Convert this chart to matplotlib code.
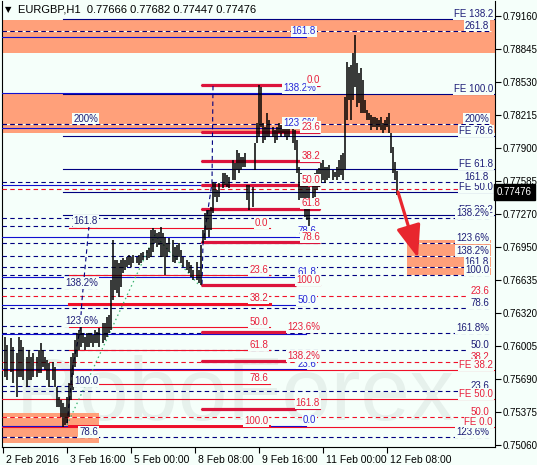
import numpy as np
import matplotlib.pyplot as plt
import matplotlib.transforms as mtransforms
from matplotlib.patches import Rectangle, FancyArrowPatch

plt.rcParams['font.family'] = ['Liberation Sans Narrow', 'Liberation Sans', 'DejaVu Sans']

BG = '#f5fffa'
NAVY = '#000080'
BLUE = '#1010d0'
CRIMSON = '#dc143c'
RED = '#f01028'
SALMON = '#ffa07a'
T_NAVY = '#1e1e78'
T_RED = '#e8203c'
T_BLUE = '#2828d8'

# --------------------------------------------------
# H1 bars: hours since 2 Feb 2016, high / low in 1e-5
# --------------------------------------------------
bar_t = [1, 2, 4, 5, 7, 8, 9, 10, 12, 13, 14, 15, 17, 18, 19, 20, 21, 22, 23, 25,
         26, 27, 28, 29, 30, 31, 32, 33, 34, 35, 36, 37, 38, 39, 40, 41, 42, 43, 44, 45,
         46, 47, 48, 50, 51, 52, 53, 54, 55, 56, 57, 58, 59, 60, 61, 62, 63, 64, 65, 67,
         68, 69, 70, 72, 73, 74, 75, 76, 77, 78, 79, 80, 81, 82, 83, 85, 86, 87, 88, 89,
         90, 92, 93, 94, 95, 97, 98, 99, 100, 101, 102, 103, 104, 105, 106, 107, 108, 110, 111, 112,
         113, 115, 116, 117, 118, 119, 120, 121, 122, 123, 125, 126, 127, 128, 129, 130, 131, 132, 133, 135,
         136, 137, 138, 139, 140, 141, 142, 143, 145, 146, 147, 148, 149, 150, 151, 152, 153, 155, 156, 157,
         158, 159, 160, 161, 162, 163, 165, 166, 167, 168, 169, 170, 171, 172, 173, 174, 175, 176, 177, 178,
         179, 180, 181, 182, 183, 184, 185, 186, 187, 188, 189, 190, 191, 192, 193, 194, 195, 196, 197]
bar_high = np.array([
    76091, 76015, 76082, 75996, 75938, 76091, 76063, 75996, 75900, 75967, 75900, 75938, 75900, 75967, 76034, 75967, 75900, 75871, 75843, 75852,
    75805, 75613, 75518, 75489, 75460, 75422, 75518, 75652, 75900, 75938, 76063, 76130, 76158, 76187, 76130, 76091, 76130, 76130, 76130, 76110,
    76158, 76140, 76177, 76225, 76225, 76282, 76302, 76636, 77019, 76827, 76827, 76799, 76827, 76846, 76827, 76856, 76875, 76856, 76875, 76856,
    76875, 76894, 76904, 76923, 76942, 77114, 77133, 77114, 77086, 77095, 77143, 77086, 77047, 76990, 77038, 77019, 76952, 76971, 76990, 76923,
    76856, 76827, 76808, 76780, 76732, 76808, 76732, 76971, 77114, 77277, 77305, 77305, 77334, 77573, 77564, 77497, 77564, 77659, 77659, 77640,
    77621, 77783, 77755, 77879, 77850, 77812, 77812, 77850, 77544, 77544, 77525, 77946, 78137, 78500, 78481, 78137, 78099, 78233, 78166, 78099,
    78070, 78099, 78137, 78118, 78166, 78099, 78137, 78137, 78099, 78070, 77975, 77716, 77659, 77592, 77564, 77564, 77525, 77592, 77659, 77688,
    77707, 77755, 77783, 77716, 77716, 77736, 77688, 77669, 77716, 77783, 77831, 77850, 78386, 78720, 78672, 78692, 78806, 78978, 78711, 78615,
    78663, 78548, 78357, 78261, 78233, 78214, 78195, 78195, 78185, 78166, 78195, 78137, 78166, 78195, 78233, 78042, 77908, 77764, 77682]) / 1e5
bar_low = np.array([
    75709, 75680, 75757, 75652, 75518, 75709, 75709, 75680, 75613, 75680, 75680, 75709, 75709, 75747, 75747, 75805, 75776, 75680, 75613, 75680,
    75613, 75422, 75422, 75326, 75231, 75250, 75269, 75326, 75489, 75585, 75805, 75900, 75967, 75996, 76034, 75967, 75996, 75996, 76034, 75996,
    76034, 76034, 75996, 76034, 76063, 76091, 76130, 76158, 76445, 76541, 76512, 76474, 76569, 76703, 76732, 76761, 76780, 76761, 76799, 76799,
    76780, 76799, 76827, 76827, 76846, 76856, 76904, 76990, 76952, 76971, 76856, 76856, 76684, 76856, 76904, 76808, 76799, 76827, 76856, 76799,
    76761, 76732, 76703, 76665, 76636, 76636, 76608, 76588, 76990, 77019, 77114, 77047, 77114, 77277, 77430, 77382, 77430, 77516, 77544, 77525,
    77516, 77592, 77592, 77688, 77659, 77688, 77716, 77716, 77401, 77305, 77334, 77688, 77946, 78003, 78099, 77946, 77975, 78003, 78003, 78003,
    77946, 77975, 78042, 78003, 78042, 78003, 77975, 78003, 77946, 77879, 77659, 77401, 77372, 77372, 77239, 77210, 77114, 77401, 77430, 77497,
    77525, 77564, 77592, 77564, 77592, 77611, 77592, 77621, 77592, 77621, 77640, 77592, 77688, 78166, 78357, 78166, 78357, 78481, 78290, 78328,
    78233, 78233, 78233, 78166, 78166, 78070, 78099, 78099, 78070, 78099, 78070, 78042, 78070, 78099, 78042, 77850, 77659, 77592, 77447]) / 1e5
last_price = 0.77476

time_ticks = [0, 32, 64, 96, 128, 160, 192]
time_labels = ['2 Feb 2016', '3 Feb 16:00', '5 Feb 00:00', '8 Feb 08:00',
               '9 Feb 16:00', '11 Feb 00:00', '12 Feb 08:00']
price_ticks = [0.79160, 0.78845, 0.78530, 0.78215, 0.77900, 0.77585, 0.77270,
               0.76950, 0.76635, 0.76320, 0.76005, 0.75690, 0.75375, 0.75060]

# --------------------------------------------------
# Zones and Fibonacci objects
# --------------------------------------------------
zone_t0 = [-0.5, -0.5, 202, -0.5]
zone_t1 = [246, 246, 244, 48]
zone_lo = [0.78806, 0.78042, 0.76684, 0.75078]
zone_hi = [0.79122, 0.78414, 0.77019, 0.75365]

fe_price = [0.79131, 0.78414, 0.78012, 0.77697, 0.77476, 0.77254]
fe_label = ['FE 138.2', 'FE 100.0', 'FE 78.6', 'FE 61.8', 'FE 50.0', 'FE 38.2']

exp_price = [0.79017, 0.78128, 0.77573, 0.77229, 0.76990, 0.76866, 0.76761,
             0.76684, 0.76369, 0.76130, 0.75967, 0.75575, 0.75135]
exp_label = ['261.8', '200%', '161.8', '138.2%', '123.6%', '138.2%', '161.8',
             '100.0', '78.6', '161.8%', '50.0', '23.6', '123.6%']

left_price = [0.78128, 0.77152, 0.76560, 0.76197, 0.75620, 0.75135]
left_label = ['200%', '161.8', '138.2%', '123.6%', '100.0', '78.6']

blue_price = [0.78963, 0.78421, 0.78085, 0.77543, 0.77051, 0.76665, 0.76394,
              0.76123, 0.75787, 0.75245]
blue_label = ['161.8', '138.2%', '123.6%', '', '78.6', '61.8', '50.0', '', '23.6', '0.0']

thick_price = [0.78500, 0.78049, 0.77770, 0.77544, 0.77318, 0.76997, 0.76588,
               0.76137, 0.75858, 0.75407]
thick_label = ['0.0', '23.6', '38.2', '50.0', '61.8', '78.6', '100.0',
               '123.6%', '138.2%', '161.8']
thick_end = [158.5, 158.5, 158.5, 158.5, 158.5, 158.5, 146.5, 141.5, 141.5, 146.5]

thin_price = [0.77133, 0.76684, 0.76410, 0.76187, 0.75963, 0.75645, 0.75240]
thin_label = ['0.0', '23.6', '38.2', '50.0', '61.8', '78.6', '100.0']
thin_width = [0.8, 0.8, 2.2, 0.8, 0.8, 0.8, 1.4]

rdash_price = [0.77503, 0.76483, 0.75852, 0.75326]
rdash_label = ['', '23.6', '38.2', '50.0']

rsolid_price = [0.75776, 0.75499, 0.75231]
rsolid_label = ['FE 38.2', 'FE 50.0', 'FE 0.0']

link1_t = [105, 104.5, 100, 99.5]
link1_p = [0.78491, 0.77564, 0.76990, 0.76588]
link2_t = [43, 39.5, 38.5, 35, 32]
link2_p = [0.77152, 0.76445, 0.76158, 0.75824, 0.75250]
trend_t = [32, 76, 97.5]
trend_p = [0.75250, 0.77066, 0.76598]

arrow_t = [197.5, 207.5]
arrow_p = [0.77477, 0.76847]

# --------------------------------------------------
# Figure
# --------------------------------------------------
fig = plt.figure(figsize=(5.37, 4.65), dpi=100, facecolor=BG)
ax = fig.add_axes([2 / 537, 1 - 447 / 465, 493 / 537, 446 / 465])
ax.set_facecolor(BG)
ax.set_xlim(-0.5, 246)
ax.set_ylim(0.75040, 0.79303)

for t0, t1, lo, hi in zip(zone_t0, zone_t1, zone_lo, zone_hi):
    ax.add_patch(Rectangle((t0, lo), t1 - t0, hi - lo, facecolor=SALMON,
                           edgecolor='none', zorder=1))

ax.text(116, 0.75298, 'RoboForex', fontsize=64, family='Liberation Sans',
        color='#e6f1ec', ha='center', va='baseline', zorder=0.5)

DASH = (0, (4, 3))


def label(x, p, text, color):
    if not text:
        return
    ax.annotate(text, (x, p), xytext=(0, 1.6), textcoords='offset points',
                ha='right', va='baseline', fontsize=7, color=color, zorder=6,
                bbox=dict(boxstyle='square,pad=0.08', fc=BG, ec='none'))


def solid_levels(prices, labels, t0, t1, lab_t, color, tcolor, lw=0.8):
    for p, lab in zip(prices, labels):
        ax.plot([t0, t1], [p, p], color=color, lw=lw, zorder=3)
        label(lab_t, p, lab, tcolor)


def dashed_levels(prices, labels, t0, t1, lab_t, color, tcolor):
    for p, lab in zip(prices, labels):
        ax.plot([t0, t1], [p, p], color=color, lw=0.8, ls=DASH, gapcolor=BG, zorder=3)
        label(lab_t, p, lab, tcolor)


solid_levels(fe_price, fe_label, 30, 246, 245, NAVY, T_NAVY)
dashed_levels(exp_price, exp_label, -0.5, 244, 243, NAVY, T_NAVY)
dashed_levels(left_price, left_label, -0.5, 47, 47.5, NAVY, T_NAVY)
solid_levels(blue_price, blue_label, -0.5, 151.5, 156.5, BLUE, T_BLUE)
dashed_levels(rdash_price, rdash_label, -0.5, 244, 243, RED, T_RED)
solid_levels(rsolid_price, rsolid_label, -0.5, 246, 245, RED, T_RED)

for p, lab, w in zip(thin_price, thin_label, thin_width):
    ax.plot([33, 133.5], [p, p], color=RED, lw=w, zorder=3)
    label(132.5, p, lab, T_RED)

for p, lab, e in zip(thick_price, thick_label, thick_end):
    ax.plot([99, e], [p, p], color=CRIMSON, lw=2.3, solid_capstyle='butt', zorder=3)
    ax.plot([99, 158.5], [p, p], color=CRIMSON, lw=0.8, zorder=3)
    label(158.5, p, lab, T_RED)

ax.plot(link1_t, link1_p, color=NAVY, lw=0.8, ls=DASH, zorder=3)
ax.plot(link2_t, link2_p, color=NAVY, lw=0.8, ls=DASH, zorder=3)
ax.plot(trend_t, trend_p, color='#3cb371', lw=0.9, ls=(0, (1.2, 2.5)), zorder=3)

# price bars
ax.vlines(bar_t, bar_low, bar_high, color='black', lw=1.1, zorder=4)

arrow = FancyArrowPatch((arrow_t[0], arrow_p[0]), (arrow_t[1], arrow_p[1]),
                        arrowstyle='-|>,head_length=2.0,head_width=0.75',
                        mutation_scale=10, color='#e8262e', lw=2.3,
                        shrinkA=0, shrinkB=0, zorder=7)
ax.add_patch(arrow)

# --------------------------------------------------
# Axes
# --------------------------------------------------
for side in ['left', 'right', 'bottom']:
    ax.spines[side].set_color('black')
    ax.spines[side].set_linewidth(0.8)
ax.spines['top'].set_visible(False)

ax.set_yticks(price_ticks)
ax.set_yticklabels(['%.5f' % v for v in price_ticks])
ax.tick_params(axis='y', left=False, right=True, labelleft=False, labelright=True,
               direction='out', length=4, width=0.8, pad=1.5, labelsize=7)
ax.set_xticks(time_ticks)
ax.set_xticklabels(time_labels)
ax.tick_params(axis='x', direction='out', length=4, width=0.8, pad=2, labelsize=7.5)
shift = mtransforms.ScaledTranslation(3 / 100, 0, fig.dpi_scale_trans)
for lab in ax.get_xticklabels():
    lab.set_ha('left')
    lab.set_transform(lab.get_transform() + shift)

ax.text(1.004, last_price, '%.5f' % last_price, transform=ax.get_yaxis_transform(),
        color='white', fontsize=7, ha='left', va='center', zorder=8,
        bbox=dict(boxstyle='square,pad=0.3', fc='black', ec='black'))

fig.text(5 / 537, 1 - 10 / 465, '\u25bc', fontsize=6, family='DejaVu Sans', va='center')
fig.text(18 / 537, 1 - 10 / 465, 'EURGBP,H1  0.77666 0.77682 0.77447 0.77476',
         fontsize=8, va='center')

fig.savefig('out.png', dpi=100, facecolor=BG)
